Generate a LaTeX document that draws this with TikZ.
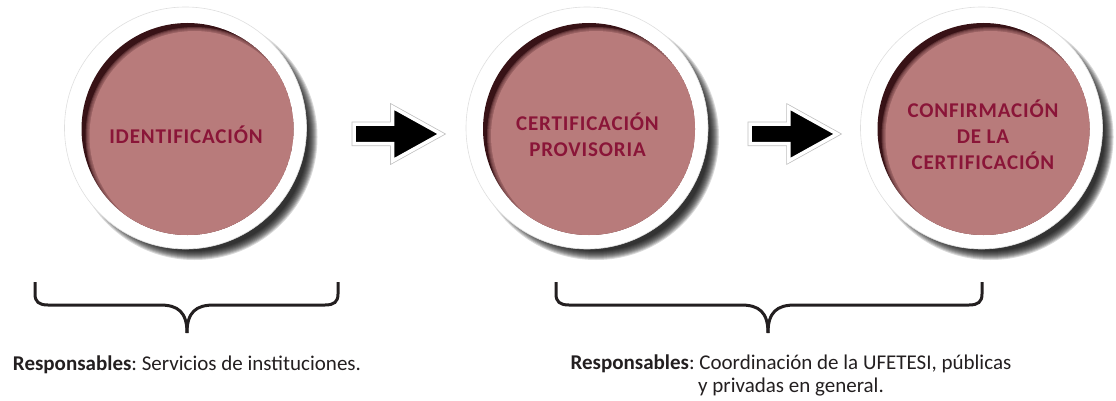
\documentclass[tikz,border=0pt]{standalone}
\usepackage{fontspec}
\setmainfont{Carlito}
\newfontfamily\stagefont[LetterSpace=4]{Carlito}
\usetikzlibrary{shapes.arrows}
\definecolor{rose}{HTML}{B87B7B}
\definecolor{wine}{HTML}{8A1538}
\definecolor{inshadow}{HTML}{381216}
\definecolor{ink}{HTML}{231F20}
\frenchspacing
\tikzset{
  stagetext/.style={font=\stagefont\bfseries\fontsize{21}{26}\selectfont, text=wine, align=center, inner sep=0pt},
  stagecirc/.style={circle, minimum size=212pt, inner sep=0pt, draw=none},
  blockarrow/.style={single arrow, single arrow head extend=17pt, single arrow tip angle=58,
    minimum height=87pt, inner xsep=0pt, inner ysep=8pt, outer sep=0pt,
    fill=black, draw=white, line width=3.5pt, preaction={draw=gray!50, line width=5pt}, anchor=tail},
  bracestyle/.style={draw=ink, line width=3pt},
  resp/.style={font=\fontsize{21}{23}\selectfont, text=ink, inner sep=0pt}
}
\newcommand{\stagedisc}[3]{%
  \foreach \k in {0,...,9} \fill[black,opacity=0.15] (#2+7,#3+8) circle ({(123-\k)*1pt});
  \fill[white] (#2-2,#3-1) circle (121pt);
  \draw[gray!25,line width=0.6pt] (#2-2,#3-1) circle (121pt);
  \begin{scope}
    \clip (#2,#3) circle (106pt);
    \fill[inshadow] (#2,#3) circle (106pt);
    \foreach \k in {0,...,3} \fill[rose,opacity=0.3] (#2+7,#3+7) circle ({(109-\k)*1pt});
    \fill[rose] (#2+7,#3+7) circle (105pt);
  \end{scope}
  \node[stagecirc] (#1) at (#2,#3) {};
}
\begin{document}
\begin{tikzpicture}[x=1pt,y=-1pt]
\useasboundingbox (0,0) rectangle (1116,401);
% stages
\stagedisc{s1}{187.5}{129}
\stagedisc{s2}{589}{129}
\stagedisc{s3}{983.5}{129}
\node[stagetext] (l1) at (186,135) {IDENTIFICACIÓN};
\node[stagetext] (l2) at (587.5,135) {CERTIFICACIÓN\\PROVISORIA};
\node[stagetext] (l3) at (983,135) {CONFIRMACIÓN\\DE LA\\CERTIFICACIÓN};
% block arrows
\node[blockarrow] (a1) at (354,134) {};
\node[blockarrow] (a2) at (750,134) {};
% braces
\coordinate (b1tip) at (187,333);
\coordinate (b2tip) at (768,333);
\draw[bracestyle] (35,282) -- (35,294) .. controls (35,302) and (39,305) .. (48,305) -- (160,305)
   .. controls (178,305) and (187,312) .. (b1tip);
\draw[bracestyle] (338,282) -- (338,294) .. controls (338,302) and (334,305) .. (325,305) -- (214,305)
   .. controls (196,305) and (187,312) .. (b1tip);
\draw[bracestyle] (556,282) -- (556,294) .. controls (556,302) and (560,305) .. (569,305) -- (741,305)
   .. controls (759,305) and (768,312) .. (b2tip);
\draw[bracestyle] (982,282) -- (982,294) .. controls (982,302) and (978,305) .. (969,305) -- (795,305)
   .. controls (777,305) and (768,312) .. (b2tip);
% responsible texts
\node[resp, anchor=base] (r1) at (187,370) {\textbf{Responsables}: Servicios de instituciones.};
\node[resp, align=center, anchor=base] (r2) at (791,392) {\textbf{Responsables}: Coordinación de la UFETESI, públicas\\y privadas en general.};
\end{tikzpicture}
\end{document}
